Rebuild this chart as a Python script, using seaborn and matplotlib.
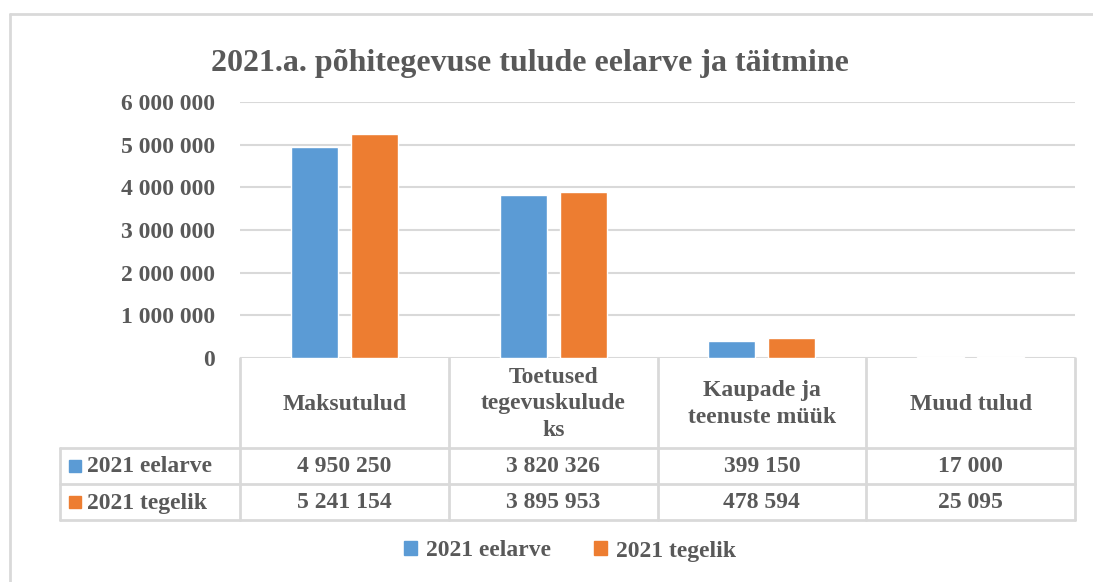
import matplotlib
matplotlib.use("Agg")
import matplotlib.pyplot as plt
from matplotlib.lines import Line2D
from matplotlib.patches import Rectangle
import seaborn as sns
import pandas as pd

# ---- data ----
categories = ["Maksutulud", "Toetused\ntegevuskulude\nks", "Kaupade ja\nteenuste müük", "Muud tulud"]
series_names = ["2021 eelarve", "2021 tegelik"]
eelarve = [4950250, 3820326, 399150, 17000]
tegelik = [5241154, 3895953, 478594, 25095]
yticks = [0, 1000000, 2000000, 3000000, 4000000, 5000000, 6000000]
title = "2021.a. põhitegevuse tulude eelarve ja täitmine"

colors = ["#5B9BD5", "#ED7D31"]
TXT = "#595959"
GRID = "#D9D9D9"
FONT = "Liberation Serif"
FS = 17

def fmt(v):
    return f"{v:,}".replace(",", " ")

df = pd.DataFrame({
    "cat": categories * 2,
    "series": [series_names[0]] * 4 + [series_names[1]] * 4,
    "value": eelarve + tegelik,
})

sns.set_theme(style="white")
plt.rcParams["font.family"] = [FONT, "DejaVu Serif"]
plt.rcParams["font.weight"] = "bold"

W, H = 1093, 582
fig = plt.figure(figsize=(W / 100, H / 100), dpi=100)

# layout in pixels
L, R, TOP, BASE = 240, 1075, 102, 358
ROW_Y = [448, 484, 520]
LAB_L = 60

ax = fig.add_axes([L / W, 1 - BASE / H, (R - L) / W, (BASE - TOP) / H])
sns.barplot(data=df, x="cat", y="value", hue="series", palette=colors,
            saturation=1, width=0.574, gap=0.217, ax=ax, legend=False, zorder=3)
ax.set_ylim(0, 6000000)
ax.set_xlim(-0.5, 3.5)
ax.set_yticks(yticks)
ax.set_yticklabels([fmt(v) for v in yticks], fontsize=FS, color=TXT,
                   fontweight="bold", family=FONT)
ax.tick_params(axis="y", length=0, pad=18)
ax.tick_params(axis="x", length=0, labelbottom=False)
ax.set_xlabel("")
ax.set_ylabel("")
ax.yaxis.grid(True, color=GRID, linewidth=1.5, zorder=0)
ax.set_axisbelow(True)
for s in ax.spines.values():
    s.set_visible(False)

# overlay axes in pixel coords
ov = fig.add_axes([0, 0, 1, 1], zorder=5)
ov.set_xlim(0, W)
ov.set_ylim(H, 0)
ov.axis("off")
ov.patch.set_alpha(0)

# outer chart border
ov.add_line(Line2D([10, W + 5], [14, 14], color=GRID, lw=2))
ov.add_line(Line2D([10, 10], [14, H + 5], color=GRID, lw=2))

# title
ov.text(530, 63, title, ha="center", va="center", fontsize=23,
        color=TXT, fontweight="bold", family=FONT)

# data table
n = len(categories)
colw = (R - L) / n
edges = [L + i * colw for i in range(n + 1)]
for i, x in enumerate(edges):
    ov.add_line(Line2D([x, x], [BASE, ROW_Y[2]], color=GRID, lw=2))
ov.add_line(Line2D([LAB_L, LAB_L], [ROW_Y[0], ROW_Y[2]], color=GRID, lw=2))
for y in ROW_Y:
    ov.add_line(Line2D([LAB_L, R], [y, y], color=GRID, lw=2))

for i, c in enumerate(categories):
    cx = (edges[i] + edges[i + 1]) / 2
    ov.text(cx, (BASE + ROW_Y[0]) / 2 + 1, c, ha="center", va="center", fontsize=FS,
            color=TXT, fontweight="bold", family=FONT, linespacing=1.32)
    for r, vals in enumerate([eelarve, tegelik]):
        ov.text(cx, (ROW_Y[r] + ROW_Y[r + 1]) / 2 + 1, fmt(vals[i]), ha="center",
                va="center", fontsize=FS, color=TXT, fontweight="bold", family=FONT)

for r, name in enumerate(series_names):
    yc = (ROW_Y[r] + ROW_Y[r + 1]) / 2
    ov.add_patch(Rectangle((LAB_L + 9, yc - 6), 12, 12, color=colors[r]))
    ov.text(LAB_L + 27, yc + 1, name, ha="left", va="center", fontsize=FS,
            color=TXT, fontweight="bold", family=FONT)

# bottom legend
handles = [Rectangle((0, 0), 1, 1, color=c) for c in colors]
leg = fig.legend(handles, series_names, loc="center", ncol=2,
                 bbox_to_anchor=(570 / W, 1 - 551 / H),
                 frameon=False, handlelength=0.55, handleheight=0.55,
                 handletextpad=0.4, columnspacing=1.8,
                 prop={"family": FONT, "weight": "bold", "size": FS})
for t in leg.get_texts():
    t.set_color(TXT)

fig.savefig("out.png", dpi=100, facecolor="white")
